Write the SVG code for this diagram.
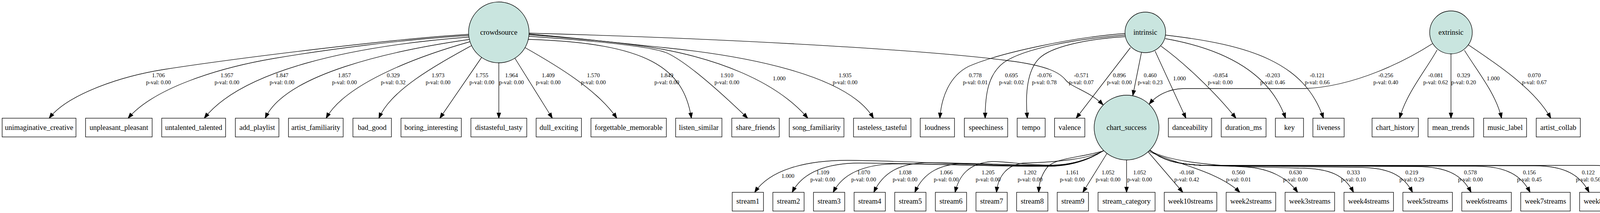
<svg xmlns="http://www.w3.org/2000/svg" width="4326" height="546" viewBox="0 0 4326 546">
<style>
.bx{fill:#fff;stroke:#000;stroke-width:1.33}
.lat{fill:#c9e5df;stroke:#000;stroke-width:1.33}
.nt{font-family:"Liberation Serif","Times New Roman",serif;font-size:18.67px;text-anchor:middle;fill:#000}
.el{font-family:"Liberation Serif","Times New Roman",serif;font-size:14.67px;text-anchor:middle;fill:#000}
.ed path{fill:none;stroke:#000;stroke-width:1.33;marker-end:url(#ah)}
</style>
<defs>
<marker id="ah" markerUnits="userSpaceOnUse" viewBox="-2 -7 17 14" refX="13.33" refY="0" markerWidth="17" markerHeight="14" orient="auto">
<path d="M0,-4.67 L13.33,0 L0,4.67 Z" fill="#000" stroke="#000" stroke-width="1.33"/>
</marker>
</defs>
<rect x="0" y="0" width="4326" height="546" fill="#fff"/>

<g id="connectors" class="ed">
<g id="e_cs_unimaginative_creative"><path d="M1200,88 C1000,100 600,150 420,178 C300,197 170,245 126,303"/><text class="el" x="405.5" y="197.8">1.706</text><text class="el" x="405.5" y="215.9">p-val: 0.00</text></g>
<g id="e_cs_unpleasant_pleasant"><path d="M1200,91 C1030,101 830,128 700,150 C560,174 395,225 328,303"/><text class="el" x="580.9" y="197.8">1.957</text><text class="el" x="580.9" y="215.9">p-val: 0.00</text></g>
<g id="e_cs_untalented_talented"><path d="M1200,95 C900,118 620,180 523,303"/><text class="el" x="721.9" y="197.8">1.847</text><text class="el" x="721.9" y="215.9">p-val: 0.00</text></g>
<g id="e_cs_add_playlist"><path d="M1202,101 C1000,130 730,190 679,303"/><text class="el" x="881.8" y="197.8">1.857</text><text class="el" x="881.8" y="215.9">p-val: 0.00</text></g>
<g id="e_cs_artist_familiarity"><path d="M1203,107 C1050,150 880,220 835,303"/><text class="el" x="1006.7" y="197.8">0.329</text><text class="el" x="1006.7" y="215.9">p-val: 0.32</text></g>
<g id="e_cs_bad_good"><path d="M1207,117 C1120,165 1000,230 970,303"/><text class="el" x="1121.4" y="197.8">1.973</text><text class="el" x="1121.4" y="215.9">p-val: 0.00</text></g>
<g id="e_cs_boring_interesting"><path d="M1233,147 L1126,303"/><text class="el" x="1233.6" y="197.8">1.755</text><text class="el" x="1233.6" y="215.9">p-val: 0.00</text></g>
<g id="e_cs_distasteful_tasty"><path d="M1277,160.5 L1277,303"/><text class="el" x="1309.4" y="197.8">1.964</text><text class="el" x="1309.4" y="215.9">p-val: 0.00</text></g>
<g id="e_cs_dull_exciting"><path d="M1318,149 L1414,303"/><text class="el" x="1403.4" y="197.8">1.409</text><text class="el" x="1403.4" y="215.9">p-val: 0.00</text></g>
<g id="e_cs_forgettable_memorable"><path d="M1344,122 C1420,165 1530,230 1579,303"/><text class="el" x="1519.1" y="197.8">1.570</text><text class="el" x="1519.1" y="215.9">p-val: 0.00</text></g>
<g id="e_cs_listen_similar"><path d="M1352,101 C1660,110 1750,175 1770,303"/><text class="el" x="1707.1" y="197.8">1.849</text><text class="el" x="1707.1" y="215.9">p-val: 0.00</text></g>
<g id="e_cs_share_friends"><path d="M1354,93 C1500,103 1670,118 1710,137 C1760,161 1840,232 1914,303"/><text class="el" x="1860.8" y="197.8">1.910</text><text class="el" x="1860.8" y="215.9">p-val: 0.00</text></g>
<g id="e_cs_song_familiarity"><path d="M1354,89 C1500,100 1620,112 1700,127 C1820,150 1980,200 2068,303"/><text class="el" x="1994.7" y="206.1">1.000</text></g>
<g id="e_cs_tasteless_tasteful"><path d="M1354,87 C1500,100 1600,112 1700,122 C1900,142 2170,190 2236,303"/><text class="el" x="2163.4" y="197.8">1.935</text><text class="el" x="2163.4" y="215.9">p-val: 0.00</text></g>
<g id="e_cs_chart_success"><path d="M1355,85 C1900,100 2400,130 2600,158 C2680,170 2712,185 2728,205 C2744,225 2790,234 2824,269"/><text class="el" x="2768.1" y="197.8">-0.571</text><text class="el" x="2768.1" y="215.9">p-val: 0.07</text></g>

<g id="e_in_loudness"><path d="M2880,86 C2750,95 2560,135 2480,170 C2430,195 2410,250 2406,303"/><text class="el" x="2496.7" y="197.8">0.778</text><text class="el" x="2496.7" y="215.9">p-val: 0.01</text></g>
<g id="e_in_speechiness"><path d="M2880,90 C2750,100 2620,125 2570,160 C2530,190 2522,240 2522,303"/><text class="el" x="2589.3" y="197.8">0.695</text><text class="el" x="2589.3" y="215.9">p-val: 0.02</text></g>
<g id="e_in_tempo"><path d="M2880,94 C2780,100 2690,120 2660,150 C2630,180 2624,240 2630,303"/><text class="el" x="2673.4" y="197.8">-0.076</text><text class="el" x="2673.4" y="215.9">p-val: 0.78</text></g>
<g id="e_in_valence"><path d="M2894,122 L2755,303"/><text class="el" x="2865.5" y="197.8">0.896</text><text class="el" x="2865.5" y="215.9">p-val: 0.00</text></g>
<g id="e_in_chart_success"><path d="M2922,135 L2900,245"/><text class="el" x="2944.5" y="197.8">0.460</text><text class="el" x="2944.5" y="215.9">p-val: 0.23</text></g>
<g id="e_in_danceability"><path d="M2957,131 L3036,303"/><text class="el" x="3019.4" y="206.1">1.000</text></g>
<g id="e_in_duration_ms"><path d="M2972,118 C3030,160 3110,235 3164,303"/><text class="el" x="3123.8" y="197.8">-0.854</text><text class="el" x="3123.8" y="215.9">p-val: 0.00</text></g>
<g id="e_in_key"><path d="M2983,99 C3130,125 3250,185 3291,303"/><text class="el" x="3257.9" y="197.8">-0.203</text><text class="el" x="3257.9" y="215.9">p-val: 0.46</text></g>
<g id="e_in_liveness"><path d="M2984,90 C3200,115 3340,160 3388,303"/><text class="el" x="3372" y="197.8">-0.121</text><text class="el" x="3372" y="215.9">p-val: 0.66</text></g>

<g id="e_ex_chart_success"><path d="M3667,112 C3600,155 3470,222 3340,227 L3030,227 C2990,228 2960,245 2942,267"/><text class="el" x="3547.6" y="197.8">-0.256</text><text class="el" x="3547.6" y="215.9">p-val: 0.40</text></g>
<g id="e_ex_chart_history"><path d="M3679,128 C3650,180 3600,240 3583,303"/><text class="el" x="3675.2" y="197.8">-0.081</text><text class="el" x="3675.2" y="215.9">p-val: 0.62</text></g>
<g id="e_ex_mean_trends"><path d="M3714.5,137.5 L3714.5,303"/><text class="el" x="3746.8" y="197.8">0.329</text><text class="el" x="3746.8" y="215.9">p-val: 0.20</text></g>
<g id="e_ex_music_label"><path d="M3749,129 C3780,180 3830,240 3844,303"/><text class="el" x="3822.6" y="206.1">1.000</text></g>
<g id="e_ex_artist_collab"><path d="M3759,115 C3840,170 3930,230 3970,303"/><text class="el" x="3927.8" y="197.8">0.070</text><text class="el" x="3927.8" y="215.9">p-val: 0.67</text></g>

<g id="e_chs_stream1"><path d="M2825,386 C2790,408 2750,421 2700,424 C2550,428 2300,411 2170,411 C2060,411 1970,436 1932,493"/><text class="el" x="2017" y="455.7">1.000</text></g>
<g id="e_chs_stream2"><path d="M2825,386 C2790,408 2750,422 2700,425 C2550,428 2350,418 2200,418 C2120,418 2055,440 2028,493"/><text class="el" x="2106.3" y="446.7">1.109</text><text class="el" x="2106.3" y="464.8">p-val: 0.00</text></g>
<g id="e_chs_stream3"><path d="M2825,386 C2790,409 2750,423 2700,426 C2550,428 2400,420 2300,420 C2220,420 2160,440 2133,493"/><text class="el" x="2211" y="446.7">1.070</text><text class="el" x="2211" y="464.8">p-val: 0.00</text></g>
<g id="e_chs_stream4"><path d="M2825,386 C2790,408 2750,421 2700,424 C2580,424 2460,417 2380,417 C2310,417 2262,438 2237,493"/><text class="el" x="2316.9" y="446.7">1.038</text><text class="el" x="2316.9" y="464.8">p-val: 0.00</text></g>
<g id="e_chs_stream5"><path d="M2825,386 C2790,408 2750,422 2700,425 C2600,424 2520,419 2470,419 C2410,420 2365,440 2342,493"/><text class="el" x="2422.3" y="446.7">1.066</text><text class="el" x="2422.3" y="464.8">p-val: 0.00</text></g>
<g id="e_chs_stream6"><path d="M2825,386 C2790,408 2750,421 2700,423 C2640,425 2580,414 2540,414 C2480,418 2455,450 2445,493"/><text class="el" x="2529.6" y="446.7">1.205</text><text class="el" x="2529.6" y="464.8">p-val: 0.00</text></g>
<g id="e_chs_stream7"><path d="M2825,386 C2790,408 2700,416 2620,418 C2580,422 2555,450 2551,493"/><text class="el" x="2637" y="446.7">1.202</text><text class="el" x="2637" y="464.8">p-val: 0.00</text></g>
<g id="e_chs_stream8"><path d="M2825,387 C2760,405 2700,405 2680,430 C2665,450 2660,470 2659,493"/><text class="el" x="2745" y="446.7">1.161</text><text class="el" x="2745" y="464.8">p-val: 0.00</text></g>
<g id="e_chs_stream9"><path d="M2834,393 L2772,493"/><text class="el" x="2836.7" y="446.7">1.052</text><text class="el" x="2836.7" y="464.8">p-val: 0.00</text></g>
<g id="e_chs_stream_category"><path d="M2884,410 L2884,493"/><text class="el" x="2917.4" y="446.7">1.052</text><text class="el" x="2917.4" y="464.8">p-val: 0.00</text></g>
<g id="e_chs_week10streams"><path d="M2939,389 L3028,493"/><text class="el" x="3038" y="446.7">-0.168</text><text class="el" x="3038" y="464.8">p-val: 0.42</text></g>
<g id="e_chs_week2streams"><path d="M2941,388 C3010,420 3120,440 3174,493"/><text class="el" x="3170.5" y="446.7">0.560</text><text class="el" x="3170.5" y="464.8">p-val: 0.01</text></g>
<g id="e_chs_week3streams"><path d="M2943,386 C2990,412 3080,422 3190,428 C3250,432 3295,455 3322,493"/><text class="el" x="3316.4" y="446.7">0.630</text><text class="el" x="3316.4" y="464.8">p-val: 0.00</text></g>
<g id="e_chs_week4streams"><path d="M2944,385 C2975,410 3010,421 3080,424 L3325,431 C3405,431 3443,450 3465,493"/><text class="el" x="3464.8" y="446.7">0.333</text><text class="el" x="3464.8" y="464.8">p-val: 0.10</text></g>
<g id="e_chs_week5streams"><path d="M2944,385 C2975,410 3010,421 3080,424 L3476,429 C3556,429 3594,450 3616,493"/><text class="el" x="3614.2" y="446.7">0.219</text><text class="el" x="3614.2" y="464.8">p-val: 0.29</text></g>
<g id="e_chs_week6streams"><path d="M2944,385 C2975,410 3010,421 3080,424 L3626,427 C3706,427 3744,450 3766,493"/><text class="el" x="3764.3" y="446.7">0.578</text><text class="el" x="3764.3" y="464.8">p-val: 0.00</text></g>
<g id="e_chs_week7streams"><path d="M2944,385 C2975,410 3010,421 3080,424 L3777,426 C3857,426 3895,450 3917,493"/><text class="el" x="3915.2" y="446.7">0.156</text><text class="el" x="3915.2" y="464.8">p-val: 0.45</text></g>
<g id="e_chs_week8streams"><path d="M2944,385 C2975,410 3010,421 3080,424 L3928,425 C4008,425 4046,450 4068,493"/><text class="el" x="4066" y="446.7">0.122</text><text class="el" x="4066" y="464.8">p-val: 0.56</text></g>
<g id="e_chs_week9streams"><path d="M2944,385 C2975,410 3010,421 3080,424 L4079,424 C4159,424 4197,450 4219,493"/><text class="el" x="4216.5" y="446.7">0.341</text><text class="el" x="4216.5" y="464.8">p-val: 0.10</text></g>
</g>

<g id="nodes">
<g id="crowdsource"><ellipse class="lat" cx="1277" cy="83" rx="77.5" ry="78"/><text class="nt" x="1277" y="88.8">crowdsource</text></g>
<g id="intrinsic"><ellipse class="lat" cx="2932" cy="83" rx="52" ry="52"/><text class="nt" x="2932" y="88.8">intrinsic</text></g>
<g id="extrinsic"><ellipse class="lat" cx="3714.5" cy="83" rx="54.5" ry="55"/><text class="nt" x="3714.5" y="88.8">extrinsic</text></g>
<g id="chart_success"><ellipse class="lat" cx="2884" cy="327" rx="83" ry="83"/><text class="nt" x="2884" y="332.6">chart_success</text></g>

<g id="unimaginative_creative"><rect class="bx" x="5.5" y="303" width="189" height="48"/><text class="nt" x="100" y="332.6">unimaginative_creative</text></g>
<g id="unpleasant_pleasant"><rect class="bx" x="219" y="303" width="170.5" height="48"/><text class="nt" x="304.25" y="332.6">unpleasant_pleasant</text></g>
<g id="untalented_talented"><rect class="bx" x="414" y="303" width="163.5" height="48"/><text class="nt" x="495.75" y="332.6">untalented_talented</text></g>
<g id="add_playlist"><rect class="bx" x="602.5" y="303" width="111.5" height="48"/><text class="nt" x="658.25" y="332.6">add_playlist</text></g>
<g id="artist_familiarity"><rect class="bx" x="738.5" y="303" width="140" height="48"/><text class="nt" x="808.5" y="332.6">artist_familiarity</text></g>
<g id="bad_good"><rect class="bx" x="903.5" y="303" width="98.5" height="48"/><text class="nt" x="952.75" y="332.6">bad_good</text></g>
<g id="boring_interesting"><rect class="bx" x="1026.5" y="303" width="154.5" height="48"/><text class="nt" x="1103.75" y="332.6">boring_interesting</text></g>
<g id="distasteful_tasty"><rect class="bx" x="1205.5" y="303" width="143" height="48"/><text class="nt" x="1277" y="332.6">distasteful_tasty</text></g>
<g id="dull_exciting"><rect class="bx" x="1372.5" y="303" width="116" height="48"/><text class="nt" x="1430.5" y="332.6">dull_exciting</text></g>
<g id="forgettable_memorable"><rect class="bx" x="1512.8" y="303" width="193" height="48"/><text class="nt" x="1609.3" y="332.6">forgettable_memorable</text></g>
<g id="listen_similar"><rect class="bx" x="1729.6" y="303" width="118.5" height="48"/><text class="nt" x="1788.85" y="332.6">listen_similar</text></g>
<g id="share_friends"><rect class="bx" x="1873.4" y="303" width="121.5" height="48"/><text class="nt" x="1934.15" y="332.6">share_friends</text></g>
<g id="song_familiarity"><rect class="bx" x="2020.5" y="303" width="140" height="48"/><text class="nt" x="2090.5" y="332.6">song_familiarity</text></g>
<g id="tasteless_tasteful"><rect class="bx" x="2185" y="303" width="147" height="48"/><text class="nt" x="2258.5" y="332.6">tasteless_tasteful</text></g>
<g id="loudness"><rect class="bx" x="2355.7" y="303" width="87.8" height="48"/><text class="nt" x="2399.6" y="332.6">loudness</text></g>
<g id="speechiness"><rect class="bx" x="2468.7" y="303" width="110.9" height="48"/><text class="nt" x="2524.15" y="332.6">speechiness</text></g>
<g id="tempo"><rect class="bx" x="2604" y="303" width="71.6" height="48"/><text class="nt" x="2639.8" y="332.6">tempo</text></g>
<g id="valence"><rect class="bx" x="2699.6" y="303" width="77.6" height="48"/><text class="nt" x="2738.4" y="332.6">valence</text></g>
<g id="danceability"><rect class="bx" x="2991" y="303" width="111" height="48"/><text class="nt" x="3046.5" y="332.6">danceability</text></g>
<g id="duration_ms"><rect class="bx" x="3126.4" y="303" width="114.7" height="48"/><text class="nt" x="3183.75" y="332.6">duration_ms</text></g>
<g id="key"><rect class="bx" x="3265" y="303" width="72" height="48"/><text class="nt" x="3301" y="332.6">key</text></g>
<g id="liveness"><rect class="bx" x="3361" y="303" width="80" height="48"/><text class="nt" x="3401" y="332.6">liveness</text></g>
<g id="chart_history"><rect class="bx" x="3512.5" y="303" width="118.5" height="48"/><text class="nt" x="3571.75" y="332.6">chart_history</text></g>
<g id="mean_trends"><rect class="bx" x="3655.6" y="303" width="117.1" height="48"/><text class="nt" x="3714.15" y="332.6">mean_trends</text></g>
<g id="music_label"><rect class="bx" x="3798" y="303" width="110" height="48"/><text class="nt" x="3853" y="332.6">music_label</text></g>
<g id="artist_collab"><rect class="bx" x="3932.7" y="303" width="112.9" height="48"/><text class="nt" x="3989.15" y="332.6">artist_collab</text></g>

<g id="stream1"><rect class="bx" x="1874.5" y="493" width="80" height="48"/><text class="nt" x="1914.5" y="522.4">stream1</text></g>
<g id="stream2"><rect class="bx" x="1978.5" y="493" width="80" height="48"/><text class="nt" x="2018.5" y="522.4">stream2</text></g>
<g id="stream3"><rect class="bx" x="2082.5" y="493" width="80" height="48"/><text class="nt" x="2122.5" y="522.4">stream3</text></g>
<g id="stream4"><rect class="bx" x="2186.5" y="493" width="80" height="48"/><text class="nt" x="2226.5" y="522.4">stream4</text></g>
<g id="stream5"><rect class="bx" x="2290.5" y="493" width="80" height="48"/><text class="nt" x="2330.5" y="522.4">stream5</text></g>
<g id="stream6"><rect class="bx" x="2394.5" y="493" width="80" height="48"/><text class="nt" x="2434.5" y="522.4">stream6</text></g>
<g id="stream7"><rect class="bx" x="2498.5" y="493" width="80" height="48"/><text class="nt" x="2538.5" y="522.4">stream7</text></g>
<g id="stream8"><rect class="bx" x="2602.5" y="493" width="80" height="48"/><text class="nt" x="2642.5" y="522.4">stream8</text></g>
<g id="stream9"><rect class="bx" x="2706.5" y="493" width="80" height="48"/><text class="nt" x="2746.5" y="522.4">stream9</text></g>
<g id="stream_category"><rect class="bx" x="2811" y="493" width="146" height="48"/><text class="nt" x="2884" y="522.4">stream_category</text></g>
<g id="week10streams"><rect class="bx" x="2980.5" y="493" width="134.6" height="48"/><text class="nt" x="3047.8" y="522.4">week10streams</text></g>
<g id="week2streams"><rect class="bx" x="3139" y="493" width="126.8" height="48"/><text class="nt" x="3202.4" y="522.4">week2streams</text></g>
<g id="week3streams"><rect class="bx" x="3289.8" y="493" width="126.8" height="48"/><text class="nt" x="3353.2" y="522.4">week3streams</text></g>
<g id="week4streams"><rect class="bx" x="3440.6" y="493" width="126.8" height="48"/><text class="nt" x="3504" y="522.4">week4streams</text></g>
<g id="week5streams"><rect class="bx" x="3591.4" y="493" width="126.8" height="48"/><text class="nt" x="3654.8" y="522.4">week5streams</text></g>
<g id="week6streams"><rect class="bx" x="3742.2" y="493" width="126.8" height="48"/><text class="nt" x="3805.6" y="522.4">week6streams</text></g>
<g id="week7streams"><rect class="bx" x="3893" y="493" width="126.8" height="48"/><text class="nt" x="3956.4" y="522.4">week7streams</text></g>
<g id="week8streams"><rect class="bx" x="4043.8" y="493" width="126.8" height="48"/><text class="nt" x="4107.2" y="522.4">week8streams</text></g>
<g id="week9streams"><rect class="bx" x="4194.6" y="493" width="126.8" height="48"/><text class="nt" x="4258" y="522.4">week9streams</text></g>
</g>
</svg>
